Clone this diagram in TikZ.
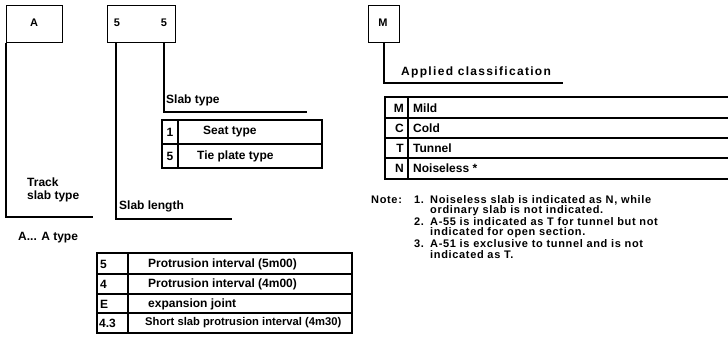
\documentclass[tikz,border=0pt]{standalone}
\usepackage{fontspec}
\setmainfont{Liberation Sans}
\begin{document}
\begin{tikzpicture}[x=1pt,y=-1pt,
  ln/.style={line width=1.2pt},
  bx/.style={draw,line width=1.2pt,inner sep=0pt,anchor=north west},
  txt/.style={font=\bfseries\fontsize{12}{13}\selectfont,inner sep=0pt},
  lt/.style={txt,anchor=west},
  nt/.style={font=\bfseries\fontsize{11}{12}\selectfont\addfontfeatures{LetterSpace=6},inner sep=0pt,anchor=west},
  big/.style={font=\bfseries\fontsize{11}{12}\selectfont,inner sep=0pt}]
\useasboundingbox (0,0) rectangle (728,353);
% top boxes
\node[bx,minimum width=56pt,minimum height=37pt] (boxA) at (6,5) {};
\node[big] (lA) at (34,23) {A};
\node[bx,minimum width=68pt,minimum height=37pt] (boxS) at (107,5) {};
\node[big] (lS1) at (117,23) {5};
\node[big] (lS2) at (164,23) {5};
\node[bx,minimum width=31pt,minimum height=37pt] (boxM) at (368,5) {};
\node[big] (lM) at (383,23) {M};
% leader coordinates
\coordinate (a1) at (6,217);
\coordinate (a2) at (93,217);
\coordinate (s1) at (116,219);
\coordinate (s2) at (232,219);
\coordinate (t1) at (164,112);
\coordinate (t2) at (307,112);
\coordinate (m1) at (384,83);
\coordinate (m2) at (563,83);
\draw[ln] (boxA.south west) -- (a1) -- (a2);
\draw[ln] (boxS.south west -| s1) -- (s1) -- (s2);
\draw[ln] (boxS.south west -| t1) -- (t1) -- (t2);
\draw[ln] (boxM.south west -| m1) -- (m1) -- (m2);
% labels
\node[lt] (track) at (27,182) {Track};
\node[lt] (slabtype1) at (27,196) {slab type};
\node[lt] (slen) at (119,206) {Slab length};
\node[lt] (stype) at (166,100) {Slab type};
\node[lt,font=\bfseries\fontsize{12}{13}\selectfont\addfontfeatures{LetterSpace=11}] (appl) at (401,72) {Applied classification};
\node[lt] (atype) at (18,238) {A... A type};
% small table
\draw[ln] (162,120) rectangle (322,168);
\draw[ln] (162,144) -- (322,144);
\draw[ln] (178,120) -- (178,168);
\node[txt] (c1) at (170,132) {1};
\node[txt] (c5) at (170,156) {5};
\node[lt] (seat) at (203,132) {Seat type};
\node[lt] (tie) at (197,156) {Tie plate type};
% right table
\draw[ln] (728,97) -- (385,97) -- (385,179) -- (728,179);
\draw[ln] (385,118) -- (728,118);
\draw[ln] (385,138) -- (728,138);
\draw[ln] (385,158) -- (728,158);
\draw[ln] (408,97) -- (408,179);
\node[txt,anchor=east] (rM) at (404,108) {M};
\node[txt,anchor=east] (rC) at (404,128) {C};
\node[txt,anchor=east] (rT) at (404,148) {T};
\node[txt,anchor=east] (rN) at (404,168) {N};
\node[lt] (mild) at (413,108) {Mild};
\node[lt] (cold) at (413,128) {Cold};
\node[lt] (tunnel) at (413,148) {Tunnel};
\node[lt] (noiseless) at (413,168) {Noiseless *};
% notes
\node[nt] (note) at (371,200) {Note:};
\node[nt] (n1) at (414,200) {1.};
\node[nt] (n1a) at (430,200) {Noiseless slab is indicated as N, while};
\node[nt] (n1b) at (430,211) {ordinary slab is not indicated.};
\node[nt] (n2) at (414,222) {2.};
\node[nt] (n2a) at (430,222) {A-55 is indicated as T for tunnel but not};
\node[nt] (n2b) at (430,233) {indicated for open section.};
\node[nt] (n3) at (414,244) {3.};
\node[nt] (n3a) at (430,244) {A-51 is exclusive to tunnel and is not};
\node[nt] (n3b) at (430,255) {indicated as T.};
% bottom table
\draw[ln] (97,253) rectangle (352,333);
\draw[ln] (97,274) -- (352,274);
\draw[ln] (97,294) -- (352,294);
\draw[ln] (97,313) -- (352,313);
\draw[ln] (128,253) -- (128,333);
\node[lt] (b5) at (100,264) {5};
\node[lt] (b4) at (100,284) {4};
\node[lt] (bE) at (100,304) {E};
\node[lt] (b43) at (99,323) {4.3};
\node[lt] (p5) at (148,264) {Protrusion interval (5m00)};
\node[lt] (p4) at (148,284) {Protrusion interval (4m00)};
\node[lt] (pE) at (148,304) {expansion joint};
\node[lt,font=\bfseries\fontsize{11.2}{13}\selectfont] (p43) at (145,323) {Short slab protrusion interval (4m30)};
\end{tikzpicture}
\end{document}
